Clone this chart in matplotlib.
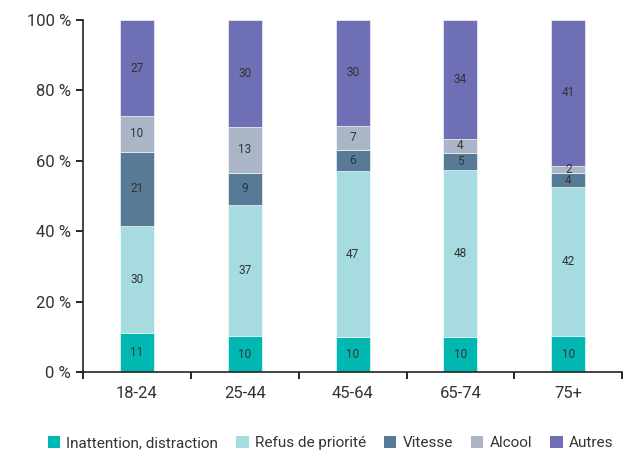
import matplotlib.pyplot as plt
import numpy as np
from matplotlib.patches import Patch

plt.rcParams['font.family'] = ['Roboto', 'DejaVu Sans']

groupes = ["18-24", "25-44", "45-64", "65-74", "75+"]
causes = ["Inattention, distraction", "Refus de priorité", "Vitesse", "Alcool", "Autres"]
inattention = [11, 10, 10, 10, 10]
refus = [30, 37, 47, 48, 42]
vitesse = [21, 9, 6, 5, 4]
alcool = [10, 13, 7, 4, 2]
autres = [27, 30, 30, 34, 41]
couleurs = ["#00b8b1", "#a6dbdf", "#577a96", "#aab6c6", "#6e6fb5"]

series = np.array([inattention, refus, vitesse, alcool, autres], dtype=float)
parts = series / series.sum(axis=0) * 100

fig = plt.figure(figsize=(6.33, 4.57), dpi=100)
ax = fig.add_axes([0.131, 0.186, 0.852, 0.770])

x = np.arange(len(groupes))
bas = np.zeros(len(groupes))
for k in range(len(causes)):
    ax.bar(x, parts[k], 0.315, bottom=bas, color=couleurs[k],
           edgecolor="white", linewidth=0.4)
    for i in range(len(groupes)):
        ax.text(x[i], bas[i] + parts[k][i] / 2, str(int(series[k][i])),
                ha="center", va="center", fontsize=8.5, color="#333333")
    bas += parts[k]

ax.set_xlim(-0.5, len(groupes) - 0.5)
ax.set_ylim(0, 100)
ax.set_yticks(range(0, 101, 20))
ax.set_yticklabels([f"{v} %" for v in range(0, 101, 20)], fontsize=12, color="#333333")
ax.set_xticks(x)
ax.set_xticklabels(groupes, fontsize=12, color="#333333")
ax.tick_params(axis="x", length=0, pad=10)
ax.set_xticks(np.arange(-0.5, len(groupes)), minor=True)
ax.tick_params(axis="x", which="minor", length=5, width=1.2, direction="out")
ax.tick_params(axis="y", length=5, width=1.2, direction="out")
for s in ["top", "right"]:
    ax.spines[s].set_visible(False)
for s in ["left", "bottom"]:
    ax.spines[s].set_linewidth(1.2)
    ax.spines[s].set_color("#222222")

poignees = [Patch(facecolor=c, label=l) for c, l in zip(couleurs, causes)]
fig.legend(handles=poignees, loc="lower center", bbox_to_anchor=(0.522, -0.015),
           ncol=5, frameon=False, fontsize=11, handlelength=0.8, handleheight=0.8,
           handletextpad=0.4, columnspacing=1.2, labelcolor="#333333")

fig.savefig("out.png", dpi=100)
